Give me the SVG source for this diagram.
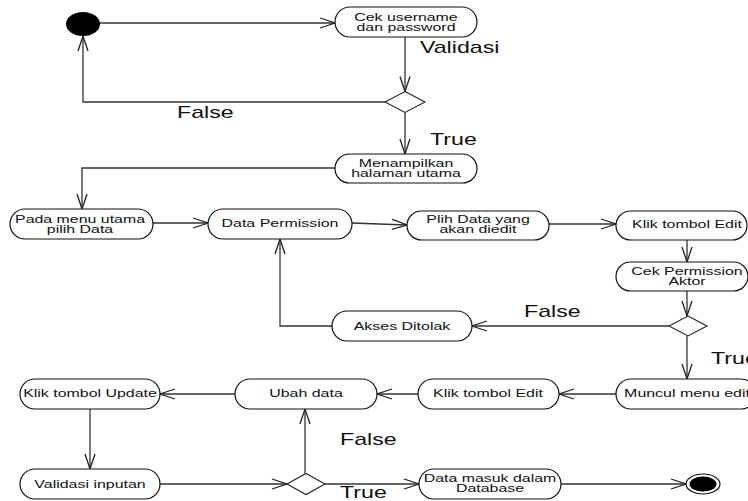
<svg xmlns="http://www.w3.org/2000/svg" width="748" height="501" viewBox="0 0 748 501">
<defs>
<marker id="arr" markerWidth="20" markerHeight="14" viewBox="-17 -7 20 14" refX="0" refY="0" orient="auto" markerUnits="userSpaceOnUse">
<path d="M-15,-5 L0,0 L-15,5" fill="none" stroke="#222" stroke-width="1.3"/>
</marker>
<style>
.node{fill:#fff;stroke:#111;stroke-width:1.2}
.dia{fill:#fff;stroke:#222;stroke-width:1.1}
.c{fill:none;stroke:#333;stroke-width:1.3;marker-end:url(#arr)}
.t{font-family:"Liberation Sans",Arial,sans-serif;font-size:11px;fill:#111;text-anchor:middle}
.t2{font-family:"Liberation Sans",Arial,sans-serif;font-size:10.2px;fill:#111;text-anchor:middle}
.lbl{font-family:"Liberation Sans",Arial,sans-serif;font-size:16px;fill:#111}
</style>
</defs>
<rect width="748" height="501" fill="#fff"/>

<g id="connectors">
<path class="c" d="M100,23 L335,23"/>
<path class="c" d="M405,37 L405,91.5"/>
<path class="c" d="M385,102 L83,102 L83,36"/>
<path class="c" d="M405,112.5 L405,154"/>
<path class="c" d="M335,168 L82,168 L82,209"/>
<path class="c" d="M153,223 L208,223"/>
<path class="c" d="M352,223 L407,225"/>
<path class="c" d="M549,224 L616,224"/>
<path class="c" d="M687,240 L687,262"/>
<path class="c" d="M687,291 L687,316"/>
<path class="c" d="M669,326 L472,326"/>
<path class="c" d="M332,326 L280,326 L280,239"/>
<path class="c" d="M687,336 L687,379"/>
<path class="c" d="M616,394 L559,394"/>
<path class="c" d="M418,394 L377,394"/>
<path class="c" d="M235,394 L160,394"/>
<path class="c" d="M90,409 L90,469"/>
<path class="c" d="M160,484 L287,484"/>
<path class="c" d="M305,473.5 L305,409"/>
<path class="c" d="M325,484 L419,484"/>
<path class="c" d="M561,484 L686,484"/>
</g>

<g id="labels">
<text class="lbl" transform="translate(420,53) scale(1.45,1)">Validasi</text>
<text class="lbl" transform="translate(177,118) scale(1.45,1)">False</text>
<text class="lbl" transform="translate(430,145) scale(1.45,1)">True</text>
<text class="lbl" transform="translate(524,317) scale(1.45,1)">False</text>
<text class="lbl" transform="translate(711,364) scale(1.45,1)">True</text>
<text class="lbl" transform="translate(340,445) scale(1.45,1)">False</text>
<text class="lbl" transform="translate(340,498) scale(1.45,1)">True</text>
</g>

<g id="start"><ellipse cx="83" cy="24" rx="17" ry="12" fill="#000"/></g>

<g id="cek-username">
<rect class="node" x="335" y="7" width="142" height="30" rx="15" ry="15"/>
<text class="t2" transform="translate(406,20.5) scale(1.56,1)">Cek username</text>
<text class="t2" transform="translate(406,31) scale(1.56,1)">dan password</text>
</g>

<g id="validasi-login"><polygon class="dia" points="405,91.5 425,102 405,112.5 385,102"/></g>

<g id="menampilkan">
<rect class="node" x="335" y="154" width="142" height="29" rx="14.5" ry="14.5"/>
<text class="t2" transform="translate(406,166.5) scale(1.56,1)">Menampilkan</text>
<text class="t2" transform="translate(406,177) scale(1.56,1)">halaman utama</text>
</g>

<g id="pada-menu">
<rect class="node" x="10" y="209" width="143" height="30" rx="15" ry="15"/>
<text class="t2" transform="translate(80,222.5) scale(1.56,1)">Pada menu utama</text>
<text class="t2" transform="translate(80,233) scale(1.56,1)">pilih Data</text>
</g>

<g id="data-permission">
<rect class="node" x="208" y="209" width="144" height="30" rx="15" ry="15"/>
<text class="t" transform="translate(280,227) scale(1.45,1)">Data Permission</text>
</g>

<g id="plih-data">
<rect class="node" x="407" y="211" width="142" height="29" rx="14.5" ry="14.5"/>
<text class="t2" transform="translate(478,222.5) scale(1.56,1)">Plih Data yang</text>
<text class="t2" transform="translate(478,233) scale(1.56,1)">akan diedit</text>
</g>

<g id="klik-edit-1">
<rect class="node" x="616" y="211" width="131" height="29" rx="14.5" ry="14.5"/>
<text class="t" transform="translate(687,228) scale(1.45,1)">Klik tombol Edit</text>
</g>

<g id="cek-permission">
<rect class="node" x="616" y="262" width="132" height="29" rx="14.5" ry="14.5"/>
<text class="t2" transform="translate(687,274.5) scale(1.56,1)">Cek Permission</text>
<text class="t2" transform="translate(687,285) scale(1.56,1)">Aktor</text>
</g>

<g id="cek-decision"><polygon class="dia" points="688,316 707,326 688,336 669,326"/></g>

<g id="akses-ditolak">
<rect class="node" x="332" y="311" width="140" height="30" rx="15" ry="15"/>
<text class="t" transform="translate(402,330) scale(1.45,1)">Akses Ditolak</text>
</g>

<g id="muncul-menu">
<rect class="node" x="616" y="379" width="140" height="30" rx="15" ry="15"/>
<text class="t" transform="translate(687,397) scale(1.45,1)">Muncul menu edit</text>
</g>

<g id="klik-edit-2">
<rect class="node" x="418" y="379" width="141" height="30" rx="15" ry="15"/>
<text class="t" transform="translate(488,397) scale(1.45,1)">Klik tombol Edit</text>
</g>

<g id="ubah-data">
<rect class="node" x="235" y="379" width="142" height="30" rx="15" ry="15"/>
<text class="t" transform="translate(306,397) scale(1.45,1)">Ubah data</text>
</g>

<g id="klik-update">
<rect class="node" x="20" y="379" width="140" height="30" rx="15" ry="15"/>
<text class="t" transform="translate(90,397) scale(1.45,1)">Klik tombol Update</text>
</g>

<g id="validasi-inputan">
<rect class="node" x="20" y="469" width="140" height="30" rx="15" ry="15"/>
<text class="t" transform="translate(90,488) scale(1.45,1)">Validasi inputan</text>
</g>

<g id="input-decision"><polygon class="dia" points="306,473.5 325,484 306,494.5 287,484"/></g>

<g id="data-masuk">
<rect class="node" x="419" y="469" width="142" height="30" rx="15" ry="15"/>
<text class="t2" transform="translate(490,481.5) scale(1.56,1)">Data masuk dalam</text>
<text class="t2" transform="translate(490,492) scale(1.56,1)">Database</text>
</g>

<g id="end">
<ellipse cx="703" cy="484" rx="17" ry="10" fill="#fff" stroke="#111" stroke-width="1.2"/>
<ellipse cx="703" cy="484" rx="13.5" ry="7.5" fill="#000"/>
</g>
</svg>
